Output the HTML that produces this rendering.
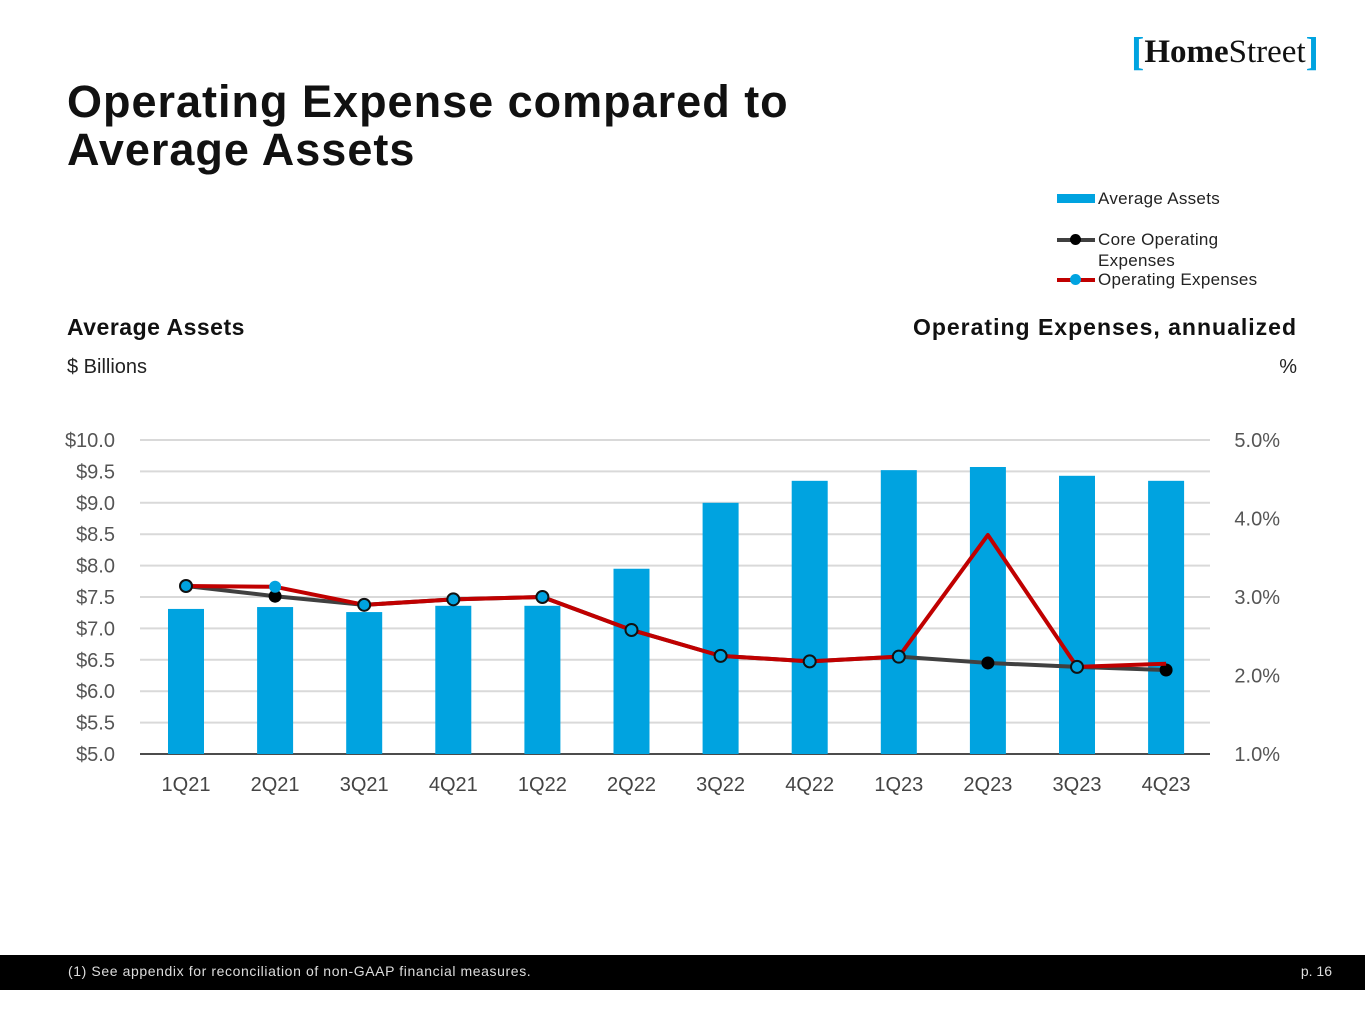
<!DOCTYPE html>
<html><head><meta charset="utf-8"><style>
body{margin:0;width:1365px;height:1024px;background:#fff;font-family:"Liberation Sans",sans-serif;position:relative;overflow:hidden}
.t{position:absolute;white-space:nowrap}
</style></head><body>
<div class="t" style="left:67px;top:78px;font-size:45px;font-weight:bold;line-height:48px;color:#111;letter-spacing:1px">Operating Expense compared to<br>Average Assets</div>
<div class="t" style="left:1131px;top:28px;font-family:'Liberation Serif',serif;font-size:33px;color:#111"><span style="color:#00a3e0;font-weight:bold;font-size:40px;vertical-align:-3px">[</span><b>Home</b>Street<span style="color:#00a3e0;font-weight:bold;font-size:40px;vertical-align:-3px">]</span></div>
<div>
<div style="position:absolute;left:1057px;top:194px;width:38px;height:9px;background:#00a3e0"></div>
<div class="t" style="left:1098px;top:189px;font-size:17px;color:#222;letter-spacing:0.3px">Average Assets</div>
<div style="position:absolute;left:1057px;top:238px;width:38px;height:4px;background:#404040"></div>
<div style="position:absolute;left:1070px;top:234px;width:11px;height:11px;border-radius:50%;background:#000"></div>
<div class="t" style="left:1098px;top:229px;font-size:17px;line-height:21px;color:#222;letter-spacing:0.3px">Core Operating<br>Expenses</div>
<div style="position:absolute;left:1057px;top:278px;width:38px;height:4px;background:#c00000"></div>
<div style="position:absolute;left:1070px;top:274px;width:11px;height:11px;border-radius:50%;background:#00a3e0"></div>
<div class="t" style="left:1098px;top:270px;font-size:17px;color:#222;letter-spacing:0.3px">Operating Expenses</div>
</div>
<div class="t" style="left:67px;top:314px;font-size:23px;font-weight:bold;color:#111;letter-spacing:0.5px">Average Assets</div>
<div class="t" style="left:67px;top:356px;font-size:20px;color:#222">$ Billions</div>
<div class="t" style="right:68px;top:314px;font-size:23px;font-weight:bold;color:#111;letter-spacing:1px">Operating Expenses, annualized</div>
<div class="t" style="right:68px;top:356px;font-size:20px;color:#222">%</div>
<svg id="c" width="1365" height="1024" style="position:absolute;left:0;top:0"></svg>
<div style="position:absolute;left:0;top:955px;width:1365px;height:35px;background:#000"></div>
<div class="t" style="left:68px;top:963px;font-size:14px;color:#ddd;letter-spacing:0.6px">(1) See appendix for reconciliation of non-GAAP financial measures.</div>
<div class="t" style="right:33px;top:963px;font-size:14px;color:#ddd">p. 16</div>
<script>
const categories=["1Q21","2Q21","3Q21","4Q21","1Q22","2Q22","3Q22","4Q22","1Q23","2Q23","3Q23","4Q23"];
const avgAssets=[7.31,7.34,7.26,7.36,7.36,7.95,9.0,9.35,9.52,9.57,9.43,9.35];
const coreOpex=[3.14,3.01,2.90,2.97,3.0,2.58,2.25,2.18,2.24,2.16,2.11,2.07];
const opex=[3.14,3.13,2.90,2.97,3.0,2.58,2.25,2.18,2.24,3.79,2.11,2.15];
const leftTicks=[5.0,5.5,6.0,6.5,7.0,7.5,8.0,8.5,9.0,9.5,10.0];
const rightTicks=[1,2,3,4,5];
const NS="http://www.w3.org/2000/svg",svg=document.getElementById('c');
const yL=v=>754-(v-5)/5*314, yR=v=>754-(v-1)/4*314, x=i=>186+i*89.1;
function mk(t,a,p){const e=document.createElementNS(NS,t);for(const k in a)e.setAttribute(k,a[k]);(p||svg).appendChild(e);return e;}
leftTicks.forEach(v=>{
 const g=mk('line',{x1:140,x2:1210,y1:yL(v),y2:yL(v),stroke:v==5?'#111':'#d9d9d9','stroke-width':v==5?1.5:2});
 
 
 const t=mk('text',{x:115,y:yL(v)+7,'text-anchor':'end','font-size':20,fill:'#555','font-family':'Liberation Sans'});t.textContent='$'+v.toFixed(1);
 
 
});
rightTicks.forEach(v=>{
 const t=mk('text',{x:1280,y:yR(v)+7,'text-anchor':'end','font-size':20,fill:'#555','font-family':'Liberation Sans'});t.textContent=v.toFixed(1)+'%';
 
 
});
categories.forEach((c,i)=>{
 const t=mk('text',{x:x(i),y:791,'text-anchor':'middle','font-size':20,fill:'#444','font-family':'Liberation Sans'});t.textContent=c;
 
 
 const b=mk('rect',{x:x(i)-18,y:yL(avgAssets[i]),width:36,height:754-yL(avgAssets[i]),fill:'#00a3e0'});
 
 
});
const cl=mk('polyline',{points:coreOpex.map((v,i)=>x(i)+','+yR(v)).join(' '),fill:'none',stroke:'#404040','stroke-width':4,'stroke-linejoin':'round'});


coreOpex.forEach((v,i)=>{const m=mk('circle',{cx:x(i),cy:yR(v),r:6.5,fill:'#000'});
 
 });
const ol=mk('polyline',{points:opex.map((v,i)=>x(i)+','+yR(v)).join(' '),fill:'none',stroke:'#c00000','stroke-width':4,'stroke-linejoin':'round'});


opex.forEach((v,i)=>{if(i==9||i==11)return;const m=mk('circle',{cx:x(i),cy:yR(v),r:6,fill:'#00a3e0',stroke:i==1?'none':'#111','stroke-width':2});
 
 });
</script>
</body></html>
